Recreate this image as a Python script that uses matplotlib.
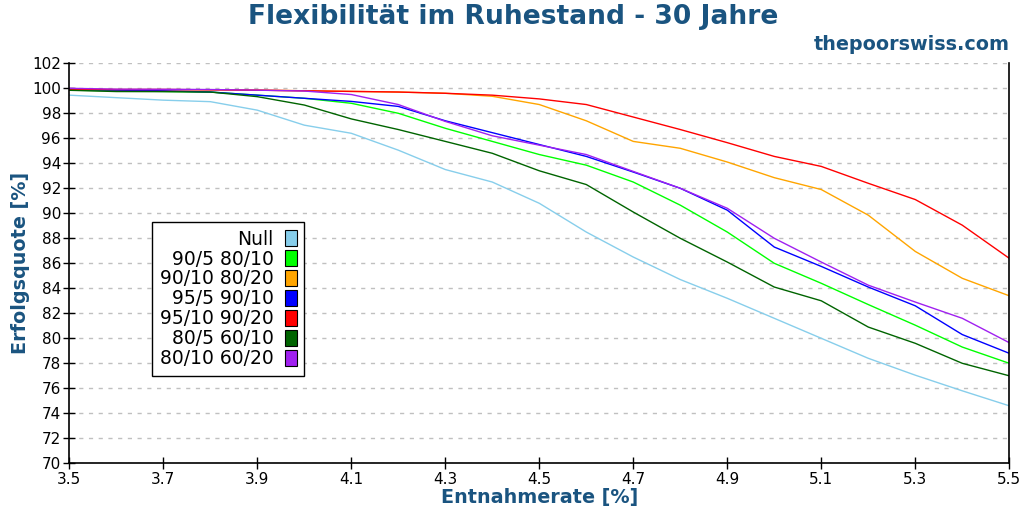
import matplotlib
matplotlib.use("Agg")
import matplotlib.pyplot as plt
from matplotlib.patches import Patch

rates = [3.5, 3.6, 3.7, 3.8, 3.9, 4.0, 4.1, 4.2, 4.3, 4.4, 4.5,
         4.6, 4.7, 4.8, 4.9, 5.0, 5.1, 5.2, 5.3, 5.4, 5.5]

null_ = [99.45, 99.25, 99.05, 98.93, 98.25, 97.05, 96.4, 95.05, 93.5, 92.5, 90.8,
         88.5, 86.5, 84.7, 83.2, 81.6, 80.0, 78.4, 77.05, 75.8, 74.6]
s90_5 = [99.85, 99.8, 99.75, 99.7, 99.45, 99.2, 98.8, 98.0, 96.8, 95.75, 94.7,
         93.85, 92.5, 90.65, 88.5, 86.0, 84.4, 82.7, 81.05, 79.3, 78.0]
s90_10 = [99.92, 99.9, 99.9, 99.88, 99.85, 99.8, 99.75, 99.7, 99.6, 99.36, 98.7,
          97.4, 95.75, 95.2, 94.1, 92.85, 91.9, 89.85, 86.95, 84.8, 83.4]
s95_5 = [99.9, 99.85, 99.8, 99.7, 99.45, 99.2, 98.95, 98.55, 97.4, 96.45, 95.5,
         94.55, 93.3, 92.0, 90.25, 87.3, 85.75, 84.1, 82.6, 80.3, 78.8]
s95_10 = [99.92, 99.9, 99.9, 99.88, 99.85, 99.8, 99.75, 99.7, 99.6, 99.45, 99.15,
          98.7, 97.7, 96.7, 95.65, 94.55, 93.75, 92.4, 91.1, 89.05, 86.4]
s80_5 = [99.84, 99.74, 99.73, 99.7, 99.33, 98.66, 97.55, 96.7, 95.75, 94.8, 93.4,
         92.3, 90.1, 88.0, 86.1, 84.1, 83.0, 80.9, 79.6, 78.0, 77.0]
s80_10 = [100.0, 99.93, 99.92, 99.9, 99.85, 99.78, 99.5, 98.7, 97.35, 96.2, 95.45,
          94.7, 93.35, 92.0, 90.4, 88.0, 86.1, 84.25, 82.9, 81.6, 79.65]

labels = ["Null", "90/5 80/10", "90/10 80/20", "95/5 90/10",
          "95/10 90/20", "80/5 60/10", "80/10 60/20"]
series = [null_, s90_5, s90_10, s95_5, s95_10, s80_5, s80_10]
colors = ["#87ceeb", "#00ff00", "#ffa500", "#0000ff", "#ff0000", "#006400", "#a020f0"]

xticks = [3.5, 3.7, 3.9, 4.1, 4.3, 4.5, 4.7, 4.9, 5.1, 5.3, 5.5]
yticks = list(range(70, 103, 2))

title_col = "#1a5480"

fig = plt.figure(figsize=(10.24, 5.12), dpi=100)
ax = fig.add_axes([0.0677, 0.0951, 0.9179, 0.7813])

for vals, c in zip(series, colors):
    ax.plot(rates, vals, color=c, lw=1.0)

ax.set_xlim(3.5, 5.5)
ax.set_ylim(70, 102)
ax.set_xticks(xticks)
ax.set_xticklabels([f"{v:.1f}" for v in xticks])
ax.set_yticks(yticks)
ax.tick_params(axis="both", direction="inout", length=8, width=1, labelsize=11, color="black")
ax.tick_params(axis="y", pad=2)
ax.tick_params(axis="x", pad=2)
ax.spines["top"].set_visible(False)
for s in ["left", "bottom", "right"]:
    ax.spines[s].set_linewidth(1.2)
ax.grid(axis="y", color="#c0c0c0", linestyle=(0, (3, 4)), linewidth=1)
ax.set_axisbelow(True)

ax.set_xlabel("Entnahmerate [%]", fontsize=13.8, fontweight="bold", color=title_col, labelpad=1)
ax.set_ylabel("Erfolgsquote [%]", fontsize=13.8, fontweight="bold", color=title_col, labelpad=1.5)

fig.text(0.501, 0.966, "Flexibilität im Ruhestand - 30 Jahre", ha="center", va="center",
         fontsize=19.1, fontweight="bold", color=title_col)
fig.text(0.986, 0.914, "thepoorswiss.com", ha="right", va="center",
         fontsize=13.8, fontweight="bold", color=title_col)

handles = [Patch(facecolor=c, edgecolor="black", linewidth=0.8) for c in colors]
leg = ax.legend(handles, labels, loc="lower left", bbox_to_anchor=(0.088, 0.218),
                markerfirst=False, fontsize=13.5, frameon=True, fancybox=False,
                edgecolor="black", framealpha=1, handlelength=0.62, handleheight=0.95,
                labelspacing=0.05, handletextpad=0.6, borderpad=0.42, borderaxespad=0)
leg.get_frame().set_linewidth(1.0)

fig.savefig("out.png", dpi=100)
